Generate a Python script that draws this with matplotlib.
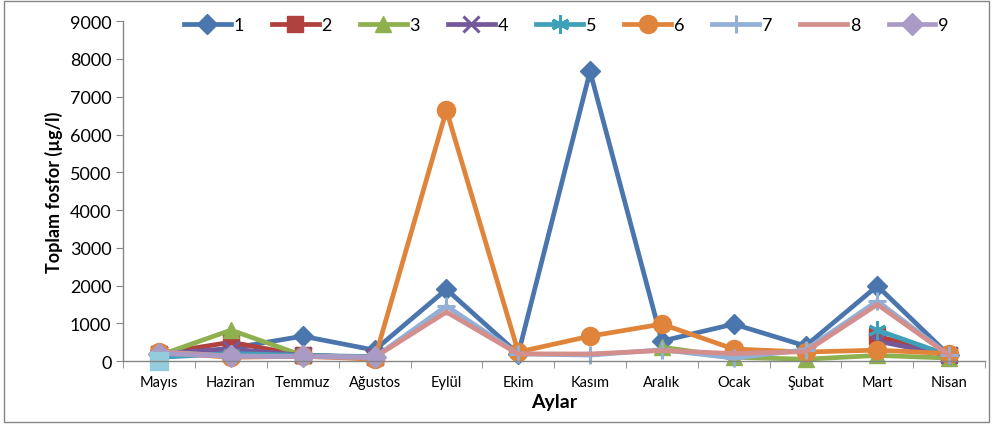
import numpy as np
import matplotlib
matplotlib.use("Agg")
import matplotlib.pyplot as plt
from matplotlib.patches import Rectangle

plt.rcParams['font.family'] = ['Lato', 'DejaVu Sans']

nan = np.nan
aylar = ['Mayıs', 'Haziran', 'Temmuz', 'Ağustos', 'Eylül', 'Ekim',
         'Kasım', 'Aralık', 'Ocak', 'Şubat', 'Mart', 'Nisan']

s1 = [150, 340, 660, 290, 1900, 190, 7670, 530, 980, 400, 1990, 150]
s2 = [200, 500, 150, 100, nan, nan, nan, nan, nan, nan, 660, 150]
s3 = [150, 820, 150, 100, nan, nan, nan, 370, 100, 50, 150, 80]
s4 = [200, 320, 150, 100, nan, nan, nan, nan, nan, nan, 530, 150]
s5 = [100, 200, 150, 120, nan, nan, nan, nan, nan, nan, 820, 150]
s6 = [240, 100, 130, 50, 6640, 240, 660, 980, 320, 240, 290, 200]
s7 = [250, 130, 120, 100, 1460, 190, 160, 300, 80, 300, 1590, 150]
s8 = [240, 130, 120, 100, 1300, 190, 190, 280, 200, 250, 1500, 150]
s9 = [200, 130, 130, 100, nan, nan, nan, nan, nan, nan, nan, nan]
s10 = [0, nan, nan, nan, nan, nan, nan, nan, nan, nan, nan, nan]

series = [s1, s2, s3, s4, s5, s6, s7, s8, s9]
labels = ['1', '2', '3', '4', '5', '6', '7', '8', '9']
colors = ['#4A76AD', '#B0413E', '#8FB04F', '#75589A', '#3FA0B9',
          '#E0843B', '#92AFD6', '#D48E8C', '#A99BC6']
markers = ['D', 's', '^', 'x', (6, 2, 0), 'o', '+', None, 'D']
msizes = [10, 11, 12, 11, 13, 13, 13, 0, 11]

fig = plt.figure(figsize=(9.94, 4.27), dpi=100)
ax = fig.add_axes([0.124, 0.152, 0.867, 0.796])

x = np.arange(len(aylar))
for vals, lab, c, m, ms in zip(series, labels, colors, markers, msizes):
    ax.plot(x, vals, color=c, lw=3.4, marker=m, markersize=ms,
            markeredgewidth=2.2 if m in ('x', '+', (6, 2, 0)) else 1,
            markeredgecolor=c, markerfacecolor=c, label=lab, clip_on=False)
ax.plot(x, s10, color='#93CDDD', lw=0, marker='s', markersize=13,
        clip_on=False)

ax.set_xlim(-0.5, len(aylar) - 0.5)
ax.set_ylim(0, 9000)
ax.set_yticks(range(0, 9001, 1000))
ax.set_xticks(x)
ax.set_xticklabels(aylar, fontsize=10.5)
ax.set_xticks(np.arange(-0.5, len(aylar), 1), minor=True)
ax.tick_params(axis='x', which='major', length=0, pad=10)
ax.tick_params(axis='x', which='minor', length=5, color='#868686', direction='out')
ax.tick_params(axis='y', length=5, color='#868686', labelsize=13, direction='out')

for side in ['top', 'right']:
    ax.spines[side].set_visible(False)
for side in ['left', 'bottom']:
    ax.spines[side].set_color('#868686')
    ax.spines[side].set_linewidth(1)

ax.set_xlabel('Aylar', fontsize=14, fontweight='bold', labelpad=3)
ax.set_ylabel('Toplam fosfor (µg/l)', fontsize=13, fontweight='bold', labelpad=5)

ax.legend(loc='upper center', bbox_to_anchor=(0.514, 1.06), ncol=9, frameon=False,
          fontsize=13, handlelength=2.6, columnspacing=1.55, handletextpad=0.15)

fig.patches.append(Rectangle((0.004, 0.01), 0.991, 0.985, transform=fig.transFigure,
                             fill=False, edgecolor='#868686', lw=1))

fig.savefig('out.png', dpi=100)
